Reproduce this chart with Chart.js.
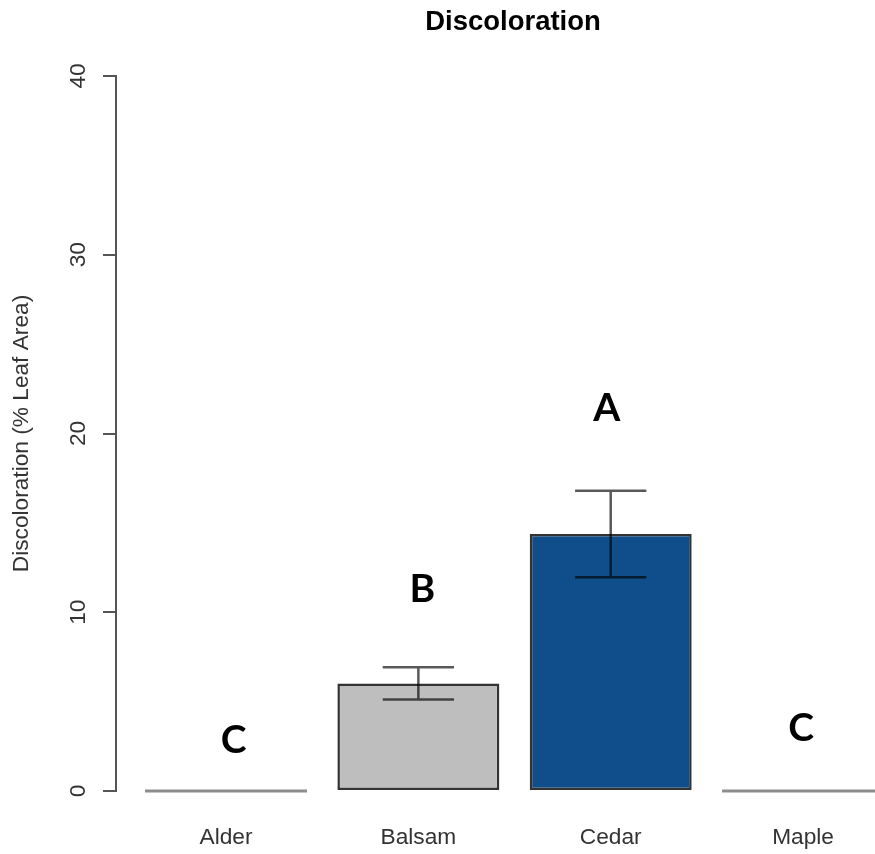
<!DOCTYPE html>
<html>
<head>
<meta charset="utf-8">
<title>Discoloration</title>
<script src="https://cdn.jsdelivr.net/npm/chart.js@4.4.1/dist/chart.umd.min.js"></script>
<style>
  html, body { margin: 0; padding: 0; background: #ffffff; overflow: hidden; }
  #wrap { width: 875px; height: 854px; }
</style>
</head>
<body>
<div id="wrap"><canvas id="chart" width="875" height="854"></canvas></div>
<script>
// Species and mean leaf-area discoloration (%), with standard errors
const categories = ['Alder', 'Balsam', 'Cedar', 'Maple'];
const meanValues = [0, 6.02, 14.38, 0];
const stdErrors = [0, 0.9, 2.42, 0];

// Significance groups (Tukey letters) and where they sit
const groupLetters = ['C', 'B', 'A', 'C'];
const letterHeights = [2.85, 11.25, 21.4, 3.5];
const letterPositions = [1.04, 2.02, 2.98, 3.99];

// Y axis tick values
const yTicks = [0, 10, 20, 30, 40];

const barFills = ['#bebebe', '#bebebe', '#104e8b', '#bebebe'];

const AXIS_COLOR = '#555555';
const TEXT_COLOR = '#333333';
const LABEL_FONT = "'Liberation Sans', Arial, sans-serif";

// Extra drawing: zero-height bars, error bars, group letters, y labels, title
const annotations = {
  id: 'annotations',
  afterDatasetsDraw(chart) {
    const { ctx, scales: { x, y } } = chart;
    const meta = chart.getDatasetMeta(0);
    const base = y.getPixelForValue(0);

    ctx.save();
    // bars with zero height still show their outline as a flat line
    meta.data.forEach((bar, i) => {
      if (meanValues[i] !== 0) return;
      ctx.strokeStyle = '#8c8c8c';
      ctx.lineWidth = 3;
      ctx.beginPath();
      ctx.moveTo(bar.x - bar.width / 2, base);
      ctx.lineTo(bar.x + bar.width / 2, base);
      ctx.stroke();
    });

    // error bars (mean ± SE)
    meta.data.forEach((bar, i) => {
      if (!stdErrors[i]) return;
      const lo = y.getPixelForValue(meanValues[i] - stdErrors[i]);
      const hi = y.getPixelForValue(meanValues[i] + stdErrors[i]);
      const half = bar.width * 0.22;
      ctx.strokeStyle = 'rgba(0,0,0,0.65)';
      ctx.lineWidth = 2.5;
      ctx.beginPath();
      ctx.moveTo(bar.x, lo); ctx.lineTo(bar.x, hi);
      ctx.moveTo(bar.x - half, lo); ctx.lineTo(bar.x + half, lo);
      ctx.moveTo(bar.x - half, hi); ctx.lineTo(bar.x + half, hi);
      ctx.stroke();
    });

    // group letters
    ctx.fillStyle = '#000000';
    ctx.font = "bold 39px Lato, 'Open Sans', sans-serif";
    ctx.textAlign = 'center';
    ctx.textBaseline = 'middle';
    groupLetters.forEach((letter, i) => {
      ctx.fillText(letter, x.getPixelForValue(letterPositions[i]), y.getPixelForValue(letterHeights[i]));
    });
    ctx.restore();
  },
  afterDraw(chart) {
    const { ctx, chartArea, scales: { y } } = chart;
    ctx.save();
    // y tick labels, written along the axis
    ctx.fillStyle = TEXT_COLOR;
    ctx.font = '22.7px ' + LABEL_FONT;
    ctx.textAlign = 'center';
    ctx.textBaseline = 'middle';
    yTicks.forEach(v => {
      ctx.save();
      ctx.translate(chartArea.left - 37, y.getPixelForValue(v));
      ctx.rotate(-Math.PI / 2);
      ctx.fillText(String(v), 0, 0);
      ctx.restore();
    });

    // main title
    ctx.fillStyle = '#000000';
    ctx.font = 'bold 27.5px ' + LABEL_FONT;
    ctx.fillText('Discoloration', 513, 22);
    ctx.restore();
  }
};

new Chart(document.getElementById('chart'), {
  type: 'bar',
  data: {
    datasets: [{
      data: meanValues.map((v, i) => ({ x: i + 1, y: v })),
      backgroundColor: barFills,
      borderColor: '#333333',
      borderWidth: 2.5,
      borderSkipped: false,
      categoryPercentage: 1,
      barPercentage: 0.842
    }]
  },
  options: {
    responsive: false,
    devicePixelRatio: 1,
    animation: false,
    events: [],
    layout: { padding: { top: 76, right: 0, bottom: 0, left: 0 } },
    plugins: {
      legend: { display: false },
      title: { display: false },
      tooltip: { enabled: false }
    },
    scales: {
      x: {
        type: 'linear',
        offset: false,
        min: 0.428,
        max: 4.374,
        afterBuildTicks: scale => { scale.ticks = categories.map((c, i) => ({ value: i + 1 })); },
        afterFit: scale => { scale.height = 63; },
        grid: { display: false, drawTicks: false, offset: false },
        border: { display: false },
        ticks: {
          padding: 33,
          maxRotation: 0,
          minRotation: 0,
          color: TEXT_COLOR,
          font: { family: LABEL_FONT, size: 22.7 },
          callback: value => categories[value - 1]
        }
      },
      y: {
        min: 0,
        max: 40,
        afterBuildTicks: scale => { scale.ticks = yTicks.map(v => ({ value: v })); },
        afterFit: scale => { scale.width = 116; },
        grid: {
          drawOnChartArea: false,
          drawTicks: true,
          tickLength: 13,
          color: AXIS_COLOR,
          lineWidth: 2
        },
        border: { display: true, color: AXIS_COLOR, width: 2 },
        ticks: { display: false },
        title: {
          display: true,
          text: 'Discoloration (% Leaf Area)',
          color: TEXT_COLOR,
          font: { family: LABEL_FONT, size: 22.7 },
          padding: { top: 8, bottom: 0 }
        }
      }
    }
  },
  plugins: [annotations]
});
</script>
</body>
</html>
